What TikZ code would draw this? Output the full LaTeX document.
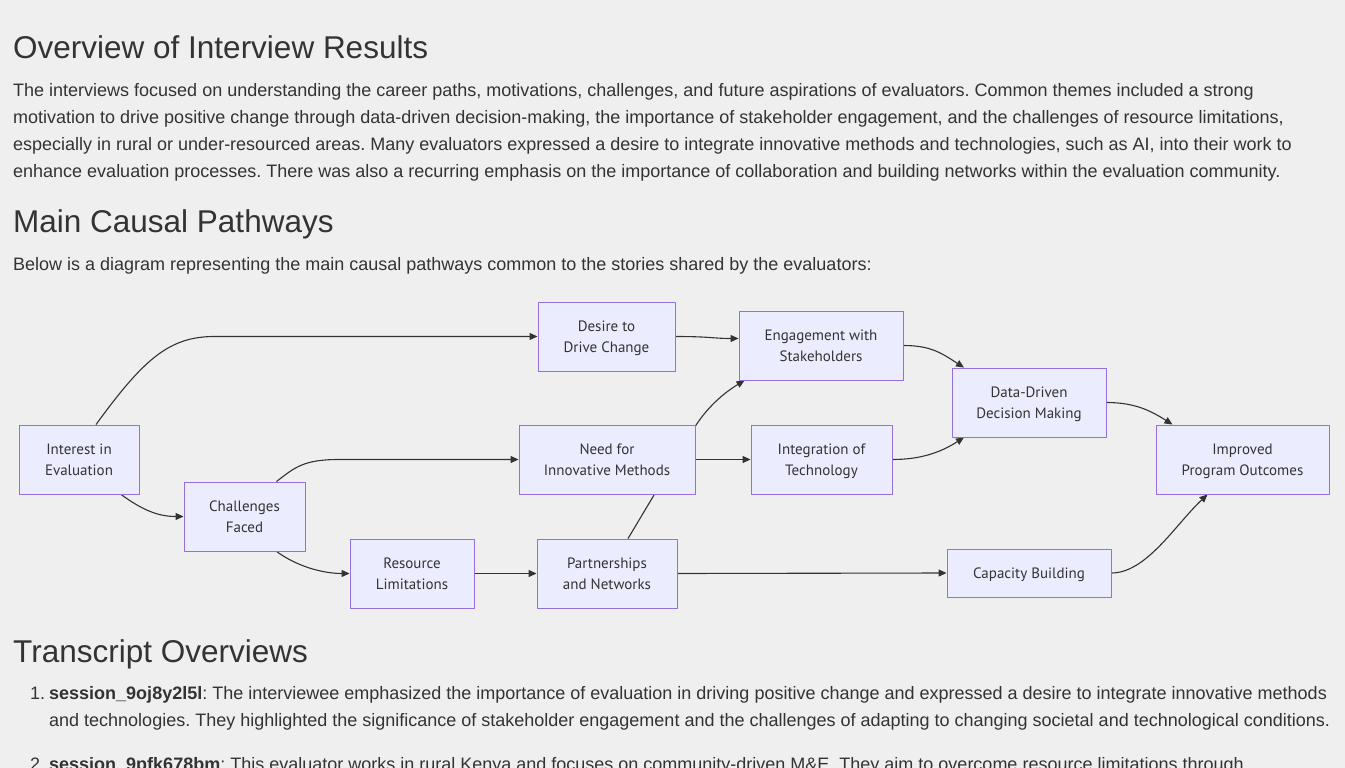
\documentclass[tikz,border=0pt]{standalone}
\usepackage{fontspec}
\setmainfont{Liberation Sans}
\newfontfamily\boxfont{PT Sans}
\usetikzlibrary{arrows.meta,backgrounds}
\definecolor{pagebg}{HTML}{EFEFEF}
\definecolor{ink}{HTML}{333333}
\definecolor{boxfill}{HTML}{ECECFF}
\definecolor{boxline}{HTML}{9370DB}
\frenchspacing
\begin{document}
\begin{tikzpicture}[x=1pt,y=1pt, line join=round, line cap=round, >={Triangle[length=8pt,width=7pt]},
  box/.style={draw=boxline, fill=boxfill, line width=0.9pt, inner sep=0pt, align=center, text=ink,
    text depth=0pt, font=\boxfont\fontsize{15}{21}\selectfont},
  edge/.style={draw=ink, line width=1.1pt, ->},
  head/.style={anchor=base west, inner sep=0pt, text=ink, font=\fontsize{31.5}{32}\selectfont},
  para/.style={anchor=base west, inner sep=0pt, text=ink, font=\fontsize{18}{27}\selectfont}]
\begin{scope}[on background layer]
  \fill[pagebg] (0,0) rectangle (1345,-768);
\end{scope}
\useasboundingbox (0,0) rectangle (1345,-768);

% text blocks
\node[head] (h1) at (13,-59) {Overview of Interview Results};
\node[para] (p1) at (13,-96) {The interviews focused on understanding the career paths, motivations, challenges, and future aspirations of evaluators. Common themes included a strong};
\node[para] (p2) at (13,-123) {motivation to drive positive change through data-driven decision-making, the importance of stakeholder engagement, and the challenges of resource limitations,};
\node[para] (p3) at (13,-150) {especially in rural or under-resourced areas. Many evaluators expressed a desire to integrate innovative methods and technologies, such as AI, into their work to};
\node[para] (p4) at (13,-177) {enhance evaluation processes. There was also a recurring emphasis on the importance of collaboration and building networks within the evaluation community.};
\node[head] (h2) at (13,-232) {Main Causal Pathways};
\node[para] (p5) at (13,-270) {Below is a diagram representing the main causal pathways common to the stories shared by the evaluators:};
\node[head] (h3) at (13,-662) {Transcript Overviews};
\node[para] (n1) at (30,-699) {1.};
\node[para] (l1) at (49,-699) {\textbf{session\_9oj8y2l5l}: The interviewee emphasized the importance of evaluation in driving positive change and expressed a desire to integrate innovative methods};
\node[para] (l1b) at (49,-726) {and technologies. They highlighted the significance of stakeholder engagement and the challenges of adapting to changing societal and technological conditions.};
\node[para] (n2) at (30,-770) {2.};
\node[para] (l2) at (49,-770) {\textbf{session\_9pfk678bm}: This evaluator works in rural Kenya and focuses on community-driven M\&E. They aim to overcome resource limitations through};

% causal pathway boxes
\foreach \n/\x/\y/\w/\h/\t in {ie/79/459.5/120/69/{Interest in\\Evaluation},
    ch/244.5/516.5/121/69/{Challenges\\Faced},
    rl/412/573.5/124/69/{Resource\\Limitations},
    pn/607/573.5/140/69/{Partnerships\\and Networks},
    dc/606.5/336.5/137/69/{Desire to\\Drive Change},
    nm/607/459.5/176/69/{Need for\\Innovative Methods},
    es/821/345.5/164/69/{Engagement with\\Stakeholders},
    it/821.5/459.5/141/69/{Integration of\\Technology},
    dd/1029/402.5/154/69/{Data-Driven\\Decision Making},
    cb/1029/573/164/48/{Capacity Building},
    ipo/1242.5/459.5/173/69/{Improved\\Program Outcomes}}
  \node[box, minimum width=\w pt, minimum height=\h pt] (\n) at (\x,-\y) {\t};

% connectors, behind the boxes
\begin{scope}[on background layer]
  \draw[edge] ([xshift=17pt]ie.north) .. controls +(48,66) and +(-45,0) .. ([xshift=-323pt]dc.west) -- (dc.west);
  \draw[edge] ([xshift=42pt]ie.south) .. controls +(22,-16) and +(-25,0) .. (ch.west);
  \draw[edge] ([xshift=32pt]ch.north) .. controls +(18,14) and +(-35,0) .. ([xshift=-180pt]nm.west) -- (nm.west);
  \draw[edge] ([xshift=32pt]ch.south) .. controls +(22,-16) and +(-25,0) .. (rl.west);
  \draw[edge] (rl.east) -- (pn.west);
  \draw[edge] ([xshift=21pt]pn.north) -- ++(64,107) .. controls +(14,24) and +(-20,-12) .. ([xshift=6pt]es.south west);
  \draw[edge] (dc.east) .. controls +(35,0) and +(-25,0) .. ([yshift=7pt]es.west);
  \draw[edge] (nm.east) -- (it.west);
  \draw[edge] (es.east) .. controls +(28,0) and +(-22,14) .. ([xshift=-65pt]dd.north);
  \draw[edge] (it.east) .. controls +(30,0) and +(-22,-14) .. ([xshift=-65pt]dd.south);
  \draw[edge] (dd.east) .. controls +(28,0) and +(-22,14) .. ([xshift=-70pt]ipo.north);
  \draw[edge] (pn.east) -- (cb.west);
  \draw[edge] (cb.east) .. controls +(35,0) and +(-32,-30) .. ([xshift=-35pt]ipo.south);
\end{scope}
\end{tikzpicture}
\end{document}
